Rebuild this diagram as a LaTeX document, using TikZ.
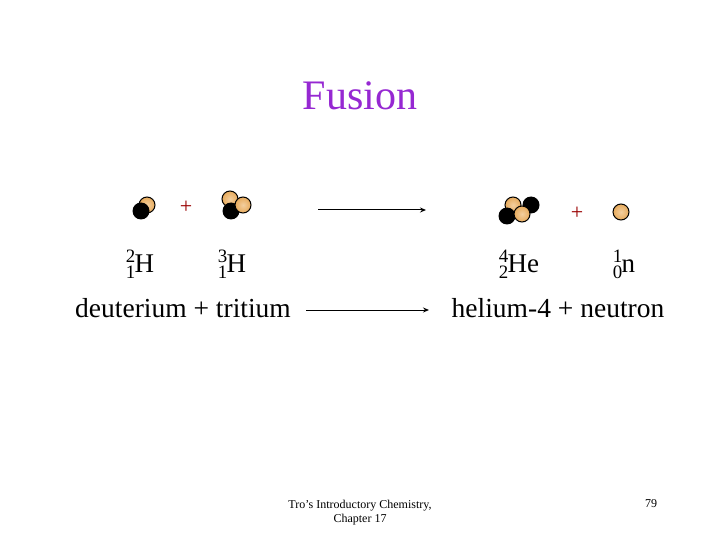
\documentclass[tikz,border=0pt]{standalone}
\usepackage{fontspec}
\usetikzlibrary{arrows.meta}
\setmainfont{Liberation Serif}
\definecolor{tan}{RGB}{235,175,95}
\definecolor{titlec}{RGB}{150,40,210}
\begin{document}
\begin{tikzpicture}[x=1pt,y=-1pt,
 orng/.style={circle,draw=black,line width=1pt,inner color=tan!60!white,outer color=tan!90!brown,minimum size=16pt,inner sep=0pt},
 blk/.style={circle,fill=black,minimum size=17pt,inner sep=0pt},
 plus/.style={text=red!60!black,font=\fontsize{22}{22}\selectfont},
 lab/.style={font=\fontsize{27}{27}\selectfont,anchor=base},
 big/.style={font=\fontsize{27.5}{27.5}\selectfont},
 arr/.style={-{Stealth[length=6pt,width=5pt]},line width=1pt}]
\useasboundingbox (0,0) rectangle (720,540);
\node[text=titlec,font=\fontsize{42}{42}\selectfont] (t) at (360,96) {Fusion};
% deuterium
\node[orng] (d1) at (147,205) {};
\node[blk] (d2) at (141,211) {};
\node[plus] (p1) at (186,207) {+};
% tritium
\node[orng] (t1) at (230,199) {};
\node[blk] (t2) at (231,211) {};
\node[orng] (t3) at (243,205) {};
% helium
\node[blk] (h1) at (531,205) {};
\node[orng] (h2) at (513,205) {};
\node[blk] (h3) at (507,216) {};
\node[orng] (h4) at (522,214) {};
\node[plus] (p2) at (577,213) {+};
\node[orng] (n1) at (621,212) {};
% arrows
\coordinate (a1) at (318,210); \coordinate (a2) at (426,210);
\draw[arr] (a1) -- (a2);
\coordinate (b1) at (306,310); \coordinate (b2) at (429,310);
\draw[arr] (b1) -- (b2);
% labels
\node[lab] (lh2) at (140,272) {$\vphantom{H}^{\mathrm{2}}_{\mathrm{1}}$\kern-1pt H};
\node[lab] (lh3) at (232,272) {$\vphantom{H}^{\mathrm{3}}_{\mathrm{1}}$\kern-1pt H};
\node[lab] (lhe) at (519,272) {$\vphantom{H}^{\mathrm{4}}_{\mathrm{2}}$\kern-1pt He};
\node[lab] (ln) at (624,272) {$\vphantom{H}^{\mathrm{1}}_{\mathrm{0}}$\kern-1pt n};
\node[big] (dt) at (183,308) {deuterium + tritium};
\node[big] (hn) at (558,308) {helium-4 + neutron};
\node[font=\fontsize{12}{14}\selectfont,align=center] (f) at (360,513) {Tro's Introductory Chemistry,\\Chapter 17};
\node[font=\fontsize{12}{14}\selectfont] (pg) at (651,504) {79};
\end{tikzpicture}
\end{document}
